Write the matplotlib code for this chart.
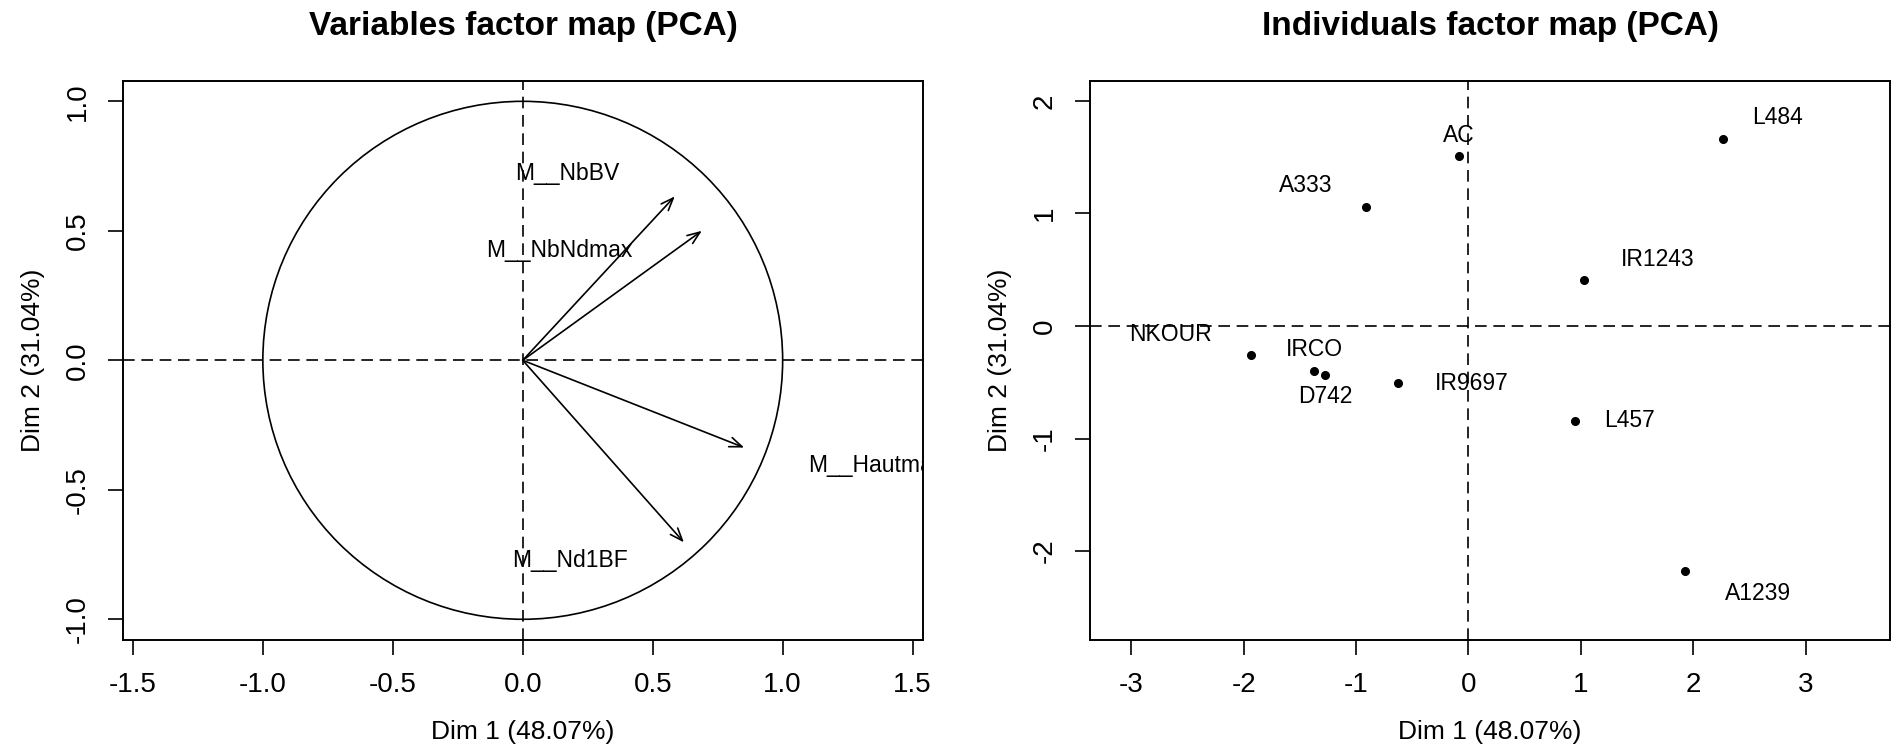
"""PCA variables / individuals factor maps, redrawn in matplotlib."""

import matplotlib

matplotlib.use("Agg")
import matplotlib.pyplot as plt
import numpy as np
from matplotlib.patches import Circle

plt.rcParams["font.family"] = ["Liberation Sans", "DejaVu Sans"]
plt.rcParams["axes.unicode_minus"] = False

# variables map: arrow tips and where their labels sit
var_names = ["M__NbBV", "M__NbNdmax", "M__Hautmax", "M__Nd1BF"]
var_dim1 = [0.585, 0.689, 0.852, 0.620]
var_dim2 = [0.633, 0.500, -0.337, -0.703]
var_lab_x = [0.17, 0.14, 1.36, 0.183]
var_lab_y = [0.72, 0.425, -0.407, -0.773]

# individuals map
ind_names = ["AC", "L484", "A333", "IR1243", "NKOUR", "IRCO", "D742", "IR9697", "L457", "A1239"]
ind_dim1 = [-0.086, 2.26, -0.91, 1.025, -1.93, -1.374, -1.277, -0.623, 0.945, 1.93]
ind_dim2 = [1.51, 1.66, 1.053, 0.405, -0.26, -0.40, -0.435, -0.507, -0.84, -2.18]
ind_lab_x = [-0.086, 2.75, -1.444, 1.685, -2.65, -1.374, -1.277, 0.032, 1.433, 2.577]
ind_lab_y = [1.693, 1.85, 1.245, 0.593, -0.072, -0.213, -0.623, -0.507, -0.84, -2.38]

xlabel = "Dim 1 (48.07%)"
ylabel = "Dim 2 (31.04%)"

W, H = 1892, 752
DASH = (0, (7, 4))


def _style(ax, xticks, yticks, fmt):
    ax.set_xticks(xticks, [fmt.format(v) for v in xticks])
    ax.set_yticks(yticks, [fmt.format(v) for v in yticks])
    ax.tick_params(labelsize=20, length=11, width=1.2, pad=12, direction="out")
    for lab in ax.get_yticklabels():
        lab.set_rotation(90)
        lab.set_va("center")
    for s in ax.spines.values():
        s.set_linewidth(1.4)
    ax.set_xlabel(xlabel, fontsize=19, labelpad=16)
    ax.set_ylabel(ylabel, fontsize=19, labelpad=14)
    ax.axhline(0, color="black", lw=1.2, ls=DASH)
    ax.axvline(0, color="black", lw=1.2, ls=DASH)


fig = plt.figure(figsize=(W / 100, H / 100), dpi=100)

# left panel
ax1 = fig.add_axes([122.5 / W, 112 / H, 800.5 / W, 559.4 / H])
ax1.set_xlim(-1.54, 1.54)
ax1.set_ylim(-1.08, 1.08)
_style(ax1, [-1.5, -1.0, -0.5, 0.0, 0.5, 1.0, 1.5], [-1.0, -0.5, 0.0, 0.5, 1.0], "{:.1f}")
ax1.add_patch(Circle((0, 0), 1.0, fill=False, color="black", lw=1.2))
for x, y in zip(var_dim1, var_dim2):
    ax1.annotate(
        "", xy=(x, y), xytext=(0, 0),
        arrowprops=dict(arrowstyle="->,head_length=0.9,head_width=0.35", color="black", lw=1.2,
                        shrinkA=0, shrinkB=0),
    )
for name, x, y in zip(var_names, var_lab_x, var_lab_y):
    ax1.text(x, y, name, fontsize=16.5, ha="center", va="center", clip_on=True)
fig.text(523 / W, 1 - 26 / H, "Variables factor map (PCA)", fontsize=24, fontweight="bold",
         ha="center", va="center")

# right panel
ax2 = fig.add_axes([1089.6 / W, 112 / H, 800.4 / W, 559.4 / H])
ax2.set_xlim(-3.37, 3.75)
ax2.set_ylim(-2.79, 2.18)
_style(ax2, [-3, -2, -1, 0, 1, 2, 3], [-2, -1, 0, 1, 2], "{:d}")
ax2.plot(ind_dim1, ind_dim2, "o", color="black", markersize=5.5)
for name, x, y in zip(ind_names, ind_lab_x, ind_lab_y):
    ax2.text(x, y, name, fontsize=16.5, ha="center", va="center")
fig.text(1490 / W, 1 - 26 / H, "Individuals factor map (PCA)", fontsize=24, fontweight="bold",
         ha="center", va="center")

fig.savefig("out.png", dpi=100)
